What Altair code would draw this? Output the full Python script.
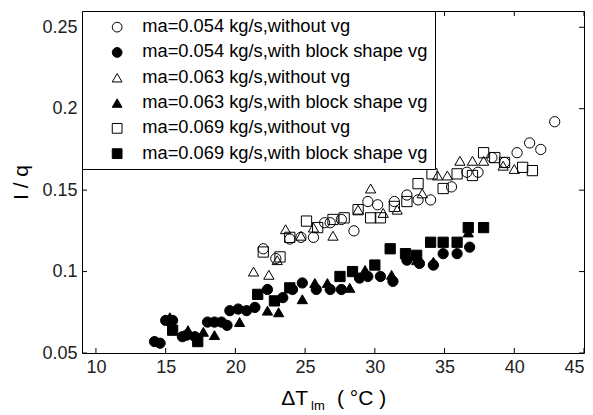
import altair as alt
import pandas as pd

# ---- data ----
labels = [
    "ma=0.054 kg/s,without vg",
    "ma=0.054 kg/s,with block shape vg",
    "ma=0.063 kg/s,without vg",
    "ma=0.063 kg/s,with block shape vg",
    "ma=0.069 kg/s,without vg",
    "ma=0.069 kg/s,with block shape vg",
]
shapes = ["circle", "circle", "triangle-up", "triangle-up", "square", "square"]
fills = ["transparent", "black", "transparent", "black", "transparent", "black"]
strokes = ["black"] * 6

x_circle_open = [22.0, 22.9, 23.9, 24.7, 25.6, 26.4, 26.8, 27.6, 28.5, 29.5, 30.2, 31.4,
                 32.3, 33.1, 34.0, 35.5, 36.6, 37.4, 38.4, 39.3, 40.2, 41.1, 41.9, 42.9]
y_circle_open = [0.114, 0.108, 0.120, 0.121, 0.121, 0.130, 0.130, 0.132, 0.125, 0.143, 0.141, 0.143,
                 0.147, 0.144, 0.144, 0.152, 0.161, 0.161, 0.170, 0.167, 0.173, 0.179, 0.175, 0.192]

x_circle_fill = [14.2, 14.6, 15.0, 15.5, 16.2, 16.5, 17.1, 18.0, 18.5, 19.0, 19.4, 19.6, 20.2, 20.8,
                 21.4, 22.3, 23.4, 24.1, 24.8, 25.8, 26.8, 27.6, 28.9, 29.5, 30.4, 31.3, 32.3, 33.2,
                 34.2, 34.9, 35.9, 36.8]
y_circle_fill = [0.057, 0.056, 0.070, 0.070, 0.060, 0.061, 0.060, 0.069, 0.069, 0.069, 0.067, 0.076,
                 0.077, 0.076, 0.078, 0.089, 0.084, 0.089, 0.093, 0.089, 0.089, 0.089, 0.096, 0.097,
                 0.097, 0.094, 0.107, 0.105, 0.104, 0.111, 0.111, 0.115]

x_tri_open = [21.3, 22.4, 23.0, 23.6, 24.7, 25.6, 27.0, 28.8, 29.7, 30.6, 31.6, 33.4, 34.5, 35.2,
              36.1, 37.0, 37.8, 39.2, 40.0]
y_tri_open = [0.100, 0.098, 0.107, 0.126, 0.122, 0.127, 0.122, 0.138, 0.151, 0.136, 0.138, 0.148,
              0.159, 0.159, 0.168, 0.168, 0.168, 0.165, 0.163]

x_tri_fill = [15.3, 16.6, 17.7, 18.5, 20.3, 22.3, 23.1, 24.8, 25.7, 26.6, 28.2, 29.3, 31.2, 33.0,
              34.2, 36.7]
y_tri_fill = [0.072, 0.064, 0.063, 0.061, 0.069, 0.076, 0.075, 0.083, 0.093, 0.093, 0.090, 0.101,
              0.098, 0.107, 0.106, 0.124]

x_sq_open = [22.0, 23.2, 23.9, 25.1, 25.9, 27.0, 27.8, 28.8, 29.7, 30.4, 31.4, 32.3, 33.1, 34.1,
             34.9, 35.9, 37.0, 37.8, 38.6, 39.3, 40.6, 41.3]
y_sq_open = [0.112, 0.109, 0.121, 0.131, 0.127, 0.132, 0.133, 0.138, 0.133, 0.133, 0.140, 0.143,
             0.154, 0.160, 0.151, 0.160, 0.159, 0.173, 0.170, 0.167, 0.164, 0.162]

x_sq_fill = [15.5, 17.3, 21.6, 22.8, 23.9, 27.5, 28.4, 30.0, 31.1, 32.2, 33.0, 34.0, 34.9, 35.9,
             36.7, 37.8]
y_sq_fill = [0.064, 0.057, 0.086, 0.082, 0.090, 0.097, 0.100, 0.104, 0.114, 0.111, 0.110, 0.118,
             0.118, 0.118, 0.127, 0.127]

x_ticks = [10, 15, 20, 25, 30, 35, 40, 45]
y_ticks = [0.05, 0.1, 0.15, 0.2, 0.25]

xs_all = [x_circle_open, x_circle_fill, x_tri_open, x_tri_fill, x_sq_open, x_sq_fill]
ys_all = [y_circle_open, y_circle_fill, y_tri_open, y_tri_fill, y_sq_open, y_sq_fill]

rows = []
for lab, xs, ys in zip(labels, xs_all, ys_all):
    rows += [{"dT": x, "Iq": y, "series": lab} for x, y in zip(xs, ys)]
df = pd.DataFrame(rows)

W, H = 502, 342
FONT = "Liberation Sans"
xscale = alt.Scale(domain=[9, 45], nice=False, zero=False)
yscale = alt.Scale(domain=[0.05, 0.26], nice=False, zero=False)

x_axis = alt.Axis(values=x_ticks, format="d", title=None)
y_axis = alt.Axis(values=y_ticks, format=".2~f", title="I / q",
                  titleFontSize=21, titleFont=FONT, titleFontWeight="normal",
                  titleColor="black", titleX=-55, titleBaseline="alphabetic")

legend = alt.Legend(
    title=None, orient="none", legendX=0, legendY=0,
    fillColor="white", strokeColor="black", padding=7, rowPadding=6.3,
    labelFontSize=18.3, labelFont=FONT, labelColor="black", labelLimit=500,
    symbolOffset=19, labelOffset=16, symbolStrokeColor="black",
    symbolStrokeWidth=1, symbolSize=95,
)

points = alt.Chart(df).mark_point(
    filled=True, strokeWidth=1, size=105, opacity=1
).encode(
    x=alt.X("dT:Q", scale=xscale, axis=x_axis),
    y=alt.Y("Iq:Q", scale=yscale, axis=y_axis),
    shape=alt.Shape("series:N", scale=alt.Scale(domain=labels, range=shapes), legend=legend),
    fill=alt.Fill("series:N", scale=alt.Scale(domain=labels, range=fills), legend=legend),
    stroke=alt.Stroke("series:N", scale=alt.Scale(domain=labels, range=strokes), legend=legend),
)

xt = pd.DataFrame({"t": x_ticks})
yt = pd.DataFrame({"t": y_ticks})
bottom_ticks = alt.Chart(xt).mark_rule(color="black").encode(
    x=alt.X("t:Q", scale=xscale, axis=x_axis), y=alt.value(H), y2=alt.value(H - 5))
top_ticks = alt.Chart(xt).mark_rule(color="black").encode(
    x=alt.X("t:Q", scale=xscale, axis=x_axis), y=alt.value(0), y2=alt.value(5))
left_ticks = alt.Chart(yt).mark_rule(color="black").encode(
    y=alt.Y("t:Q", scale=yscale, axis=y_axis), x=alt.value(0), x2=alt.value(5))
right_ticks = alt.Chart(yt).mark_rule(color="black").encode(
    y=alt.Y("t:Q", scale=yscale, axis=y_axis), x=alt.value(W - 5), x2=alt.value(W))

t1 = alt.Chart(pd.DataFrame({"s": ["ΔT"]})).mark_text(
    align="right", baseline="alphabetic", fontSize=21, font=FONT, color="black"
).encode(text="s:N", x=alt.value(226), y=alt.value(394))
t2 = alt.Chart(pd.DataFrame({"s": ["lm"]})).mark_text(
    align="left", baseline="alphabetic", fontSize=13, font=FONT, color="black"
).encode(text="s:N", x=alt.value(229), y=alt.value(399))
t3 = alt.Chart(pd.DataFrame({"s": ["( °C )"]})).mark_text(
    align="left", baseline="alphabetic", fontSize=21, font=FONT, color="black"
).encode(text="s:N", x=alt.value(255), y=alt.value(394))

chart = alt.layer(
    bottom_ticks, top_ticks, left_ticks, right_ticks, points, t1, t2, t3
).properties(
    width=W, height=H,
    autosize=alt.AutoSizeParams(type="none"),
    padding={"left": 74, "top": 3, "right": 1, "bottom": 62},
).configure_view(
    stroke="black", strokeWidth=1
).configure_axis(
    domain=False, ticks=False, grid=False, labelFontSize=18, labelFont=FONT,
    labelColor="#222", labelPadding=5
)

chart.save("out.html", embed_options={"renderer": "svg", "actions": False})
